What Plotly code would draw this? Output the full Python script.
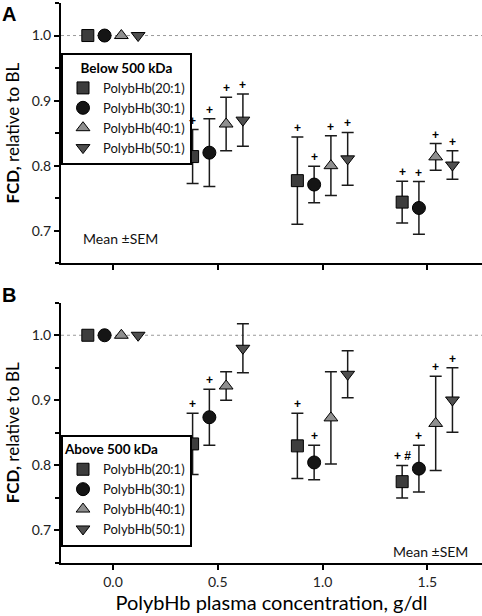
import plotly.graph_objects as go

# ---------------- data ----------------
BASELINE_X = 0.0
BASELINE_Y = 1.0
DOSES = [0.5, 1.0, 1.5]
SERIES = ["PolybHb(20:1)", "PolybHb(30:1)", "PolybHb(40:1)", "PolybHb(50:1)"]
X_TICKS = [0.0, 0.5, 1.0, 1.5]
Y_TICKS = [0.7, 0.8, 0.9, 1.0]

# Panel A: below 500 kDa
A_MEAN_20 = [0.814, 0.777, 0.744]
A_MEAN_30 = [0.820, 0.771, 0.735]
A_MEAN_40 = [0.864, 0.800, 0.8135]
A_MEAN_50 = [0.870, 0.8105, 0.801]
A_SEM_20 = [0.0415, 0.067, 0.032]
A_SEM_30 = [0.052, 0.028, 0.0405]
A_SEM_40 = [0.041, 0.046, 0.0205]
A_SEM_50 = [0.040, 0.0405, 0.022]
A_SIG_20 = ["+", "+", "+"]
A_SIG_30 = ["+", "+", "+"]
A_SIG_40 = ["+", "+", "+"]
A_SIG_50 = ["+", "+", "+"]

# Panel B: above 500 kDa
B_MEAN_20 = [0.833, 0.830, 0.775]
B_MEAN_30 = [0.874, 0.8045, 0.795]
B_MEAN_40 = [0.922, 0.873, 0.8645]
B_MEAN_50 = [0.980, 0.940, 0.9005]
B_SEM_20 = [0.047, 0.050, 0.025]
B_SEM_30 = [0.043, 0.0265, 0.036]
B_SEM_40 = [0.022, 0.071, 0.0725]
B_SEM_50 = [0.0375, 0.036, 0.0495]
B_SIG_20 = ["+", "+", "+ #"]
B_SIG_30 = ["+", "+", "+"]
B_SIG_40 = ["", "", "+"]
B_SIG_50 = ["", "", "+"]

# ---------------- style ----------------
FONT = "Lato"
OFFSETS = [-0.12, -0.04, 0.04, 0.12]
SYMBOLS = ["square", "circle", "triangle-up", "triangle-down"]
COLORS = ["#3d3d3d", "#151515", "#8f8f8f", "#4f4f4f"]
SIZES = [12, 13, 12, 12]

panels = [
    dict(x="x", y="y", legend="legend",
         means=[A_MEAN_20, A_MEAN_30, A_MEAN_40, A_MEAN_50],
         sems=[A_SEM_20, A_SEM_30, A_SEM_40, A_SEM_50],
         sigs=[A_SIG_20, A_SIG_30, A_SIG_40, A_SIG_50]),
    dict(x="x2", y="y2", legend="legend2",
         means=[B_MEAN_20, B_MEAN_30, B_MEAN_40, B_MEAN_50],
         sems=[B_SEM_20, B_SEM_30, B_SEM_40, B_SEM_50],
         sigs=[B_SIG_20, B_SIG_30, B_SIG_40, B_SIG_50]),
]

fig = go.Figure()
sig_annotations = []
for p in panels:
    for i, name in enumerate(SERIES):
        mk = dict(symbol=SYMBOLS[i], color=COLORS[i], size=SIZES[i],
                  line=dict(color="#000000", width=1))
        xs = [d + OFFSETS[i] for d in DOSES]
        # baseline point
        fig.add_trace(go.Scatter(
            x=[BASELINE_X + OFFSETS[i]], y=[BASELINE_Y], mode="markers",
            marker=mk, xaxis=p["x"], yaxis=p["y"], showlegend=False,
            hoverinfo="skip"))
        # dosed points with SEM
        fig.add_trace(go.Scatter(
            x=xs, y=p["means"][i], mode="markers", name=name,
            marker=mk, legend=p["legend"],
            error_y=dict(type="data", array=p["sems"][i], visible=True,
                         color="#1a1a1a", thickness=1.5, width=6),
            xaxis=p["x"], yaxis=p["y"]))
        # significance marks above the error bars
        for xv, m, s, t in zip(xs, p["means"][i], p["sems"][i], p["sigs"][i]):
            if t:
                sig_annotations.append(dict(
                    text="<b>" + t + "</b>", xref=p["x"], yref=p["y"],
                    x=xv, y=m + s, xanchor="center", yanchor="bottom",
                    yshift=0, showarrow=False,
                    font=dict(family="Liberation Sans", size=12,
                              color="#000000")))

XRANGE = [-0.248, 1.761]
YRANGE = [0.65, 1.05]

xcommon = dict(range=XRANGE, showline=True, linewidth=2, linecolor="#000000",
               ticks="outside", ticklen=5, tickwidth=2, tickcolor="#000000",
               tickvals=X_TICKS, tickformat=".1f", showgrid=False, zeroline=False,
               automargin=False,
               tickfont=dict(family=FONT, size=14, color="#222222"))
ycommon = dict(range=YRANGE, showline=True, linewidth=2, linecolor="#000000",
               ticks="outside", ticklen=5, tickwidth=2, tickcolor="#000000",
               tickvals=Y_TICKS, tickformat=".1f", showgrid=False, zeroline=False,
               automargin=False,
               tickfont=dict(family=FONT, size=14, color="#222222"),
               minor=dict(dtick=0.05, tick0=0.65, ticks="outside", ticklen=4,
                          tickwidth=2, tickcolor="#000000", showgrid=False),
               title=dict(text="<b>FCD,</b> relative to BL", standoff=8,
                          font=dict(family=FONT, size=17, color="#000000")))

legcommon = dict(x=0, xanchor="left", yanchor="top", bgcolor="white",
                 bordercolor="#000000", borderwidth=2, itemwidth=30,
                 tracegroupgap=0,
                 font=dict(family=FONT, size=13, color="#111111"))

fig.update_layout(
    template="none",
    width=482, height=616,
    margin=dict(l=61, r=0, t=3, b=53),
    plot_bgcolor="white", paper_bgcolor="white",
    font=dict(family=FONT, color="#000000"),
    xaxis=dict(xcommon, anchor="y", domain=[0, 1], showticklabels=False),
    yaxis=dict(ycommon, anchor="x", domain=[0.5352, 1.0]),
    xaxis2=dict(xcommon, anchor="y2", domain=[0, 1], showticklabels=True,
                title=dict(text="PolybHb plasma concentration, g/dl", standoff=6,
                           font=dict(family=FONT, size=20, color="#000000"))),
    yaxis2=dict(ycommon, anchor="x2", domain=[0, 0.4648]),
    legend=dict(legcommon, y=0.910,
                title=dict(text="<b>Below 500 kDa</b>", side="top center",
                           font=dict(family=FONT, size=13.5, color="#000000"))),
    legend2=dict(legcommon, y=0.229,
                 title=dict(text="<b>Above 500 kDa</b>", side="top",
                            font=dict(family=FONT, size=13.5, color="#000000"))),
    shapes=[
        dict(type="line", xref="x domain", yref="y", x0=0, x1=1,
             y0=BASELINE_Y, y1=BASELINE_Y, layer="below",
             line=dict(color="#9a9a9a", width=1, dash="dot")),
        dict(type="line", xref="x2 domain", yref="y2", x0=0, x1=1,
             y0=BASELINE_Y, y1=BASELINE_Y, layer="below",
             line=dict(color="#9a9a9a", width=1, dash="dot")),
    ],
    annotations=sig_annotations + [
        dict(text="<b>A</b>", xref="paper", yref="paper", x=-0.145, y=0.981,
             xanchor="left", yanchor="middle", showarrow=False,
             font=dict(family="Liberation Sans", size=20, color="#000000")),
        dict(text="<b>B</b>", xref="paper", yref="paper", x=-0.145, y=0.479,
             xanchor="left", yanchor="middle", showarrow=False,
             font=dict(family="Liberation Sans", size=20, color="#000000")),
        dict(text="Mean ±SEM", xref="paper", yref="paper", x=0.0475, y=0.5786,
             xanchor="left", yanchor="middle", showarrow=False,
             font=dict(family=FONT, size=14, color="#111111")),
        dict(text="Mean ±SEM", xref="paper", yref="paper", x=0.9715, y=0.0202,
             xanchor="right", yanchor="middle", showarrow=False,
             font=dict(family=FONT, size=14, color="#111111")),
    ],
)

fig.write_html("out.html",
               config={"displayModeBar": False},
               post_script="document.body.style.margin='0';"
                           "document.body.style.padding='0';")
